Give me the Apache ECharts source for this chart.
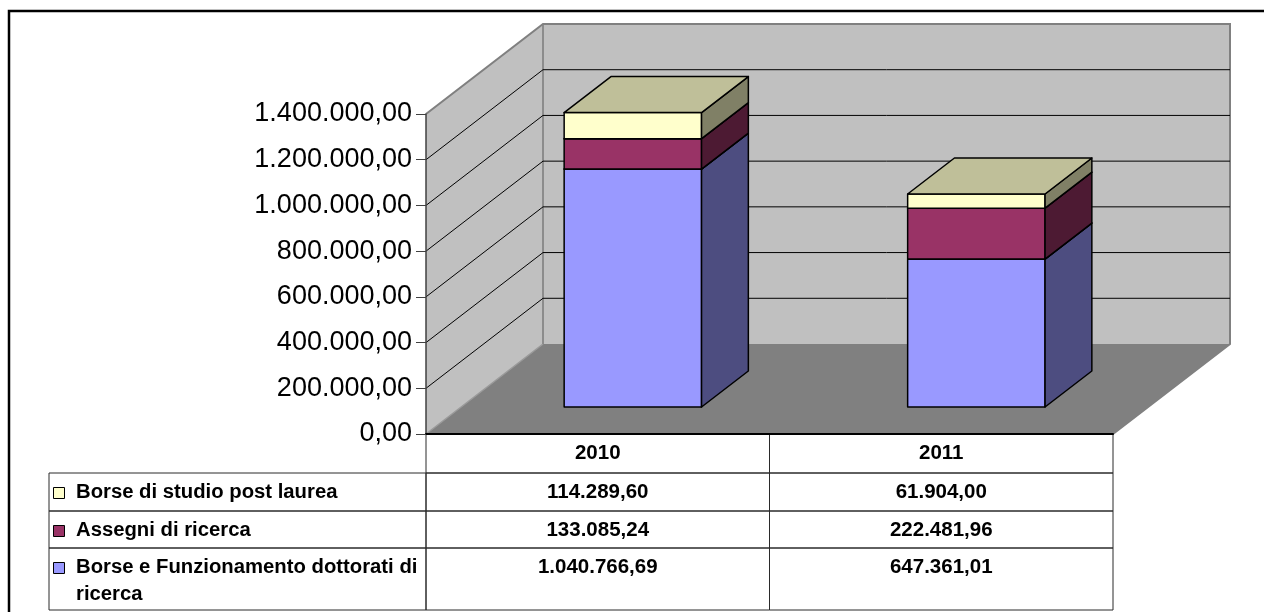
<!DOCTYPE html>
<html>
<head>
<meta charset="utf-8">
<script src="https://cdn.jsdelivr.net/npm/echarts@6/dist/echarts.min.js"></script>
<style>
  html, body { margin: 0; padding: 0; background: #ffffff; }
  #chart { width: 1264px; height: 612px; }
</style>
</head>
<body>
<div id="chart"></div>
<script>
// ---- data ----
const categories = ['2010', '2011'];
// stacked from the floor upwards
const dottorati = [1040766.69, 647361.01];       // Borse e Funzionamento dottorati di ricerca
const assegni = [133085.24, 222481.96];          // Assegni di ricerca
const borsePostLaurea = [114289.60, 61904.00];   // Borse di studio post laurea
const seriesNames = [
  'Borse e Funzionamento dottorati di ricerca',
  'Assegni di ricerca',
  'Borse di studio post laurea'
];
const yTicks = [0, 200000, 400000, 600000, 800000, 1000000, 1200000, 1400000];

// ---- style / layout ----
const FONT = "'Liberation Sans', Arial, Helvetica, sans-serif";
const seriesColors = ['#9999ff', '#993366', '#ffffcc'];
const DEPTH_X = 117;     // oblique depth of the plot box
const DEPTH_Y = -90;
const BAR_FRONT = 0.3;   // bar sits in the middle of the depth
const BAR_DEPTH = 0.4;
const BAR_WIDTH = 0.4;   // share of category band
const TABLE_LEFT = 49;
const ROW_EDGES = [473, 511, 548, 610];  // body rows of the data table (header row sits above)
const TEXT_PAD = 6;
const LINE_H = 27;

const stacks = [dottorati, assegni, borsePostLaurea];
const Y_MIN = yTicks[0];
const Y_MAX = yTicks[yTicks.length - 1];
const Y_STEP = yTicks[1] - yTicks[0];

function itNumber(v) {
  const parts = v.toFixed(2).split('.');
  return parts[0].replace(/\B(?=(\d{3})+(?!\d))/g, '.') + ',' + parts[1];
}

function shade(hex, k) {
  const n = parseInt(hex.slice(1), 16);
  const r = Math.round(((n >> 16) & 255) * k);
  const g = Math.round(((n >> 8) & 255) * k);
  const b = Math.round((n & 255) * k);
  return 'rgb(' + r + ',' + g + ',' + b + ')';
}

function plotBox(api) {
  const bw = api.size([1, 0])[0];
  return {
    bw: bw,
    x0: api.coord([0, Y_MIN])[0] - bw / 2,
    x1: api.coord([categories.length - 1, Y_MIN])[0] + bw / 2,
    yb: api.coord([0, Y_MIN])[1],
    yt: api.coord([0, Y_MAX])[1]
  };
}

// walls and floor of the 3D box
function renderWalls(params, api) {
  const b = plotBox(api);
  const dx = DEPTH_X, dy = DEPTH_Y;
  const edge = (pts, color, w) => ({
    type: 'polyline', shape: { points: pts },
    style: { stroke: color, lineWidth: w, fill: null }
  });
  return {
    type: 'group',
    children: [
      { type: 'polygon', shape: { points: [[b.x0 + dx, b.yt + dy], [b.x1 + dx, b.yt + dy], [b.x1 + dx, b.yb + dy], [b.x0 + dx, b.yb + dy]] },
        style: { fill: '#c0c0c0' } },
      { type: 'polygon', shape: { points: [[b.x0, b.yb], [b.x0, b.yt], [b.x0 + dx, b.yt + dy], [b.x0 + dx, b.yb + dy]] },
        style: { fill: '#c0c0c0' } },
      { type: 'polygon', shape: { points: [[b.x0, b.yb], [b.x0 + dx, b.yb + dy], [b.x1 + dx, b.yb + dy], [b.x1, b.yb]] },
        style: { fill: '#808080' } },
      edge([[b.x0, b.yb], [b.x0 + dx, b.yb + dy]], '#9a9a9a', 1.5),
      edge([[b.x0 + dx, b.yt + dy], [b.x0 + dx, b.yb + dy]], '#8c8c8c', 2),
      edge([[b.x0, b.yt], [b.x0 + dx, b.yt + dy], [b.x1 + dx, b.yt + dy], [b.x1 + dx, b.yb + dy], [b.x1, b.yb]], '#808080', 2)
    ]
  };
}

// gridlines running across the left wall and the back wall
function renderGridline(params, api) {
  const b = plotBox(api);
  const y = api.coord([0, api.value(0)])[1];
  return {
    type: 'polyline',
    shape: { points: [[b.x0, y], [b.x0 + DEPTH_X, y + DEPTH_Y], [b.x1 + DEPTH_X, y + DEPTH_Y]] },
    style: { stroke: '#000000', lineWidth: 1, fill: null }
  };
}

// one stacked 3D column per category
function renderColumn(params, api) {
  const c = api.value(0);
  const cx = api.coord([c, Y_MIN])[0];
  const w = api.size([1, 0])[0] * BAR_WIDTH;
  const ox = DEPTH_X * BAR_FRONT, oy = DEPTH_Y * BAR_FRONT;
  const bx = DEPTH_X * BAR_DEPTH, by = DEPTH_Y * BAR_DEPTH;
  const xl = cx - w / 2 + ox, xr = cx + w / 2 + ox;
  const children = [];
  let start = 0;
  for (let s = 0; s < stacks.length; s++) {
    const end = start + api.value(s + 1);
    const yS = api.coord([c, start])[1] + oy;
    const yE = api.coord([c, end])[1] + oy;
    const col = seriesColors[s];
    const line = { stroke: '#000000', lineWidth: 1.5, lineJoin: 'round' };
    children.push({ type: 'polygon', shape: { points: [[xl, yE], [xr, yE], [xr, yS], [xl, yS]] },
      style: Object.assign({ fill: col }, line) });
    children.push({ type: 'polygon', shape: { points: [[xr, yS], [xr, yE], [xr + bx, yE + by], [xr + bx, yS + by]] },
      style: Object.assign({ fill: shade(col, 0.5) }, line) });
    children.push({ type: 'polygon', shape: { points: [[xl, yE], [xr, yE], [xr + bx, yE + by], [xl + bx, yE + by]] },
      style: Object.assign({ fill: shade(col, 0.75) }, line) });
    start = end;
  }
  return { type: 'group', children: children };
}

// value cells of the data table; rows listed top series first
function renderCell(params, api) {
  const c = api.value(0);
  const r = api.value(1);
  const b = plotBox(api);
  const cx = api.coord([c, Y_MIN])[0];
  const top = ROW_EDGES[r], bottom = ROW_EDGES[r + 1];
  const left = cx - b.bw / 2, right = cx + b.bw / 2;
  const children = [
    { type: 'rect', shape: { x: left, y: top, width: right - left, height: bottom - top },
      style: { fill: null, stroke: '#2a2a2a', lineWidth: 1 } },
    { type: 'text', x: cx, y: top + TEXT_PAD,
      style: { text: itNumber(api.value(2)), fill: '#000000', fontFamily: FONT, fontSize: 20.5, fontWeight: 'bold',
               align: 'center', verticalAlign: 'top', lineHeight: LINE_H } }
  ];
  if (r === 0) {
    children.push({ type: 'rect', shape: { x: left, y: b.yb, width: right - left, height: top - b.yb },
      style: { fill: null, stroke: '#2a2a2a', lineWidth: 1 } });
  }
  return { type: 'group', children: children };
}

// legend keys and series names in the first table column
function renderRowHeader(params, api) {
  const r = api.value(0);
  const s = stacks.length - 1 - r;
  const b = plotBox(api);
  const top = ROW_EDGES[r], bottom = ROW_EDGES[r + 1];
  return {
    type: 'group',
    children: [
      { type: 'rect', shape: { x: TABLE_LEFT, y: top, width: b.x0 - TABLE_LEFT, height: bottom - top },
        style: { fill: null, stroke: '#2a2a2a', lineWidth: 1 } },
      { type: 'rect', shape: { x: TABLE_LEFT + 4.5, y: top + TEXT_PAD + 8.5, width: 11, height: 11 },
        style: { fill: seriesColors[s], stroke: '#000000', lineWidth: 1 } },
      { type: 'text', x: TABLE_LEFT + 27, y: top + TEXT_PAD,
        style: { text: seriesNames[s], fill: '#000000', fontFamily: FONT, fontSize: 20.3, fontWeight: 'bold',
                 align: 'left', verticalAlign: 'top', lineHeight: LINE_H,
                 width: b.x0 - TABLE_LEFT - 28, overflow: 'break' } }
    ]
  };
}

const columnData = categories.map((_, c) => [c].concat(stacks.map(arr => arr[c])));
const cellData = [];
for (let r = 0; r < stacks.length; r++) {
  const s = stacks.length - 1 - r;
  categories.forEach((_, c) => cellData.push([c, r, stacks[s][c]]));
}
const rowHeaderData = stacks.map((_, r) => [r]);
const gridlineData = yTicks.filter(v => v > Y_MIN && v < Y_MAX).map(v => [v]);

const chart = echarts.init(document.getElementById('chart'), null, { renderer: 'canvas' });
chart.setOption({
  animation: false,
  backgroundColor: '#ffffff',
  grid: { left: 426, right: 151, top: 114, bottom: 178, containLabel: false },
  xAxis: {
    type: 'category',
    data: categories,
    z: 10,
    axisLine: { show: true, lineStyle: { color: '#000000', width: 2 } },
    axisTick: { show: false },
    axisLabel: { margin: 9, color: '#000000', fontFamily: FONT, fontSize: 20.5, fontWeight: 'bold' },
    splitLine: { show: false }
  },
  yAxis: {
    type: 'value',
    min: Y_MIN,
    max: Y_MAX,
    interval: Y_STEP,
    z: 10,
    axisLine: { show: true, lineStyle: { color: '#404040', width: 1.5 } },
    axisTick: { show: true, length: 10, lineStyle: { color: '#404040', width: 1 } },
    axisLabel: { margin: 14, color: '#000000', fontFamily: FONT, fontSize: 27, formatter: v => itNumber(v) },
    splitLine: { show: false }
  },
  graphic: [{
    type: 'rect', z: 100, silent: true,
    shape: { x: 9, y: 11, width: 1400, height: 800 },
    style: { fill: null, stroke: '#000000', lineWidth: 2.5 }
  }],
  series: [
    { type: 'custom', name: 'walls', z: 1, silent: true, renderItem: renderWalls, data: [[0, 0]], encode: { x: 0, y: 1 } },
    { type: 'custom', name: 'gridlines', z: 2, silent: true, renderItem: renderGridline,
      data: gridlineData, encode: { y: 0 } },
    { type: 'custom', name: 'columns', z: 3, silent: true, renderItem: renderColumn, data: columnData,
      encode: { x: 0, y: [1, 2, 3] } },
    { type: 'custom', name: 'tableCells', z: 4, silent: true, renderItem: renderCell, data: cellData,
      encode: { x: 0, y: 2 } },
    { type: 'custom', name: 'tableRowHeaders', z: 4, silent: true, renderItem: renderRowHeader, data: rowHeaderData,
      encode: { y: 0 } }
  ]
});
</script>
</body>
</html>
